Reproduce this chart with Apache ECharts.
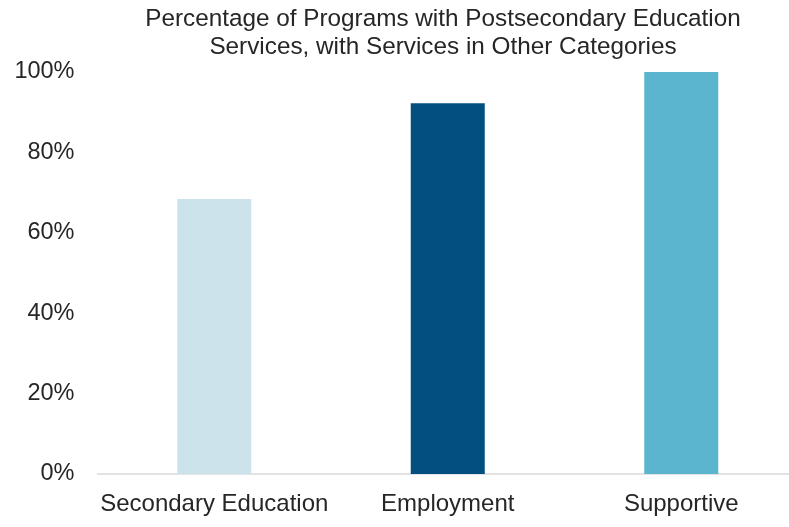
<!DOCTYPE html>
<html>
<head>
<meta charset="utf-8">
<script src="https://cdn.jsdelivr.net/npm/echarts@6/dist/echarts.min.js"></script>
<style>html,body{margin:0;padding:0;background:#fff;overflow:hidden;width:789px;height:527px}#c{width:798px;height:527px}</style>
</head>
<body>
<div id="c"></div>
<script>
const titleText = 'Percentage of Programs with Postsecondary Education\nServices, with Services in Other Categories';
const categories = ['Secondary Education', 'Employment', 'Supportive'];
const values = [68.4, 92.2, 100];
const barColors = ['#cce3ec', '#034f80', '#5bb5cf'];
const yTicks = [0, 20, 40, 60, 80, 100];

const chart = echarts.init(document.getElementById('c'));
chart.setOption({
  animation: false,
  textStyle: { fontFamily: 'Liberation Sans, Arial, sans-serif' },
  title: {
    text: titleText,
    left: 443,
    top: 5,
    padding: 0,
    textAlign: 'center',
    textStyle: { fontSize: 24.3, fontWeight: 'normal', color: '#262626', lineHeight: 28, fontFamily: 'Liberation Sans, Arial, sans-serif' }
  },
  grid: { left: 97.5, right: 0, top: 72, bottom: 53, containLabel: false },
  xAxis: {
    type: 'category',
    data: categories,
    axisLine: { lineStyle: { color: '#d9d9d9', width: 1.5 } },
    axisTick: { show: false },
    axisLabel: { fontSize: 24, color: '#262626', margin: 18, interval: 0 }
  },
  yAxis: {
    type: 'value',
    min: yTicks[0],
    max: yTicks[yTicks.length - 1],
    interval: 20,
    splitLine: { show: false },
    axisLine: { show: false },
    axisTick: { show: false },
    axisLabel: { fontSize: 23.5, color: '#262626', margin: 23, formatter: v => v + '%' }
  },
  series: [{
    type: 'bar',
    barWidth: 74,
    data: values.map((v, i) => ({ value: v, itemStyle: { color: barColors[i] } }))
  }]
});
</script>
</body>
</html>
